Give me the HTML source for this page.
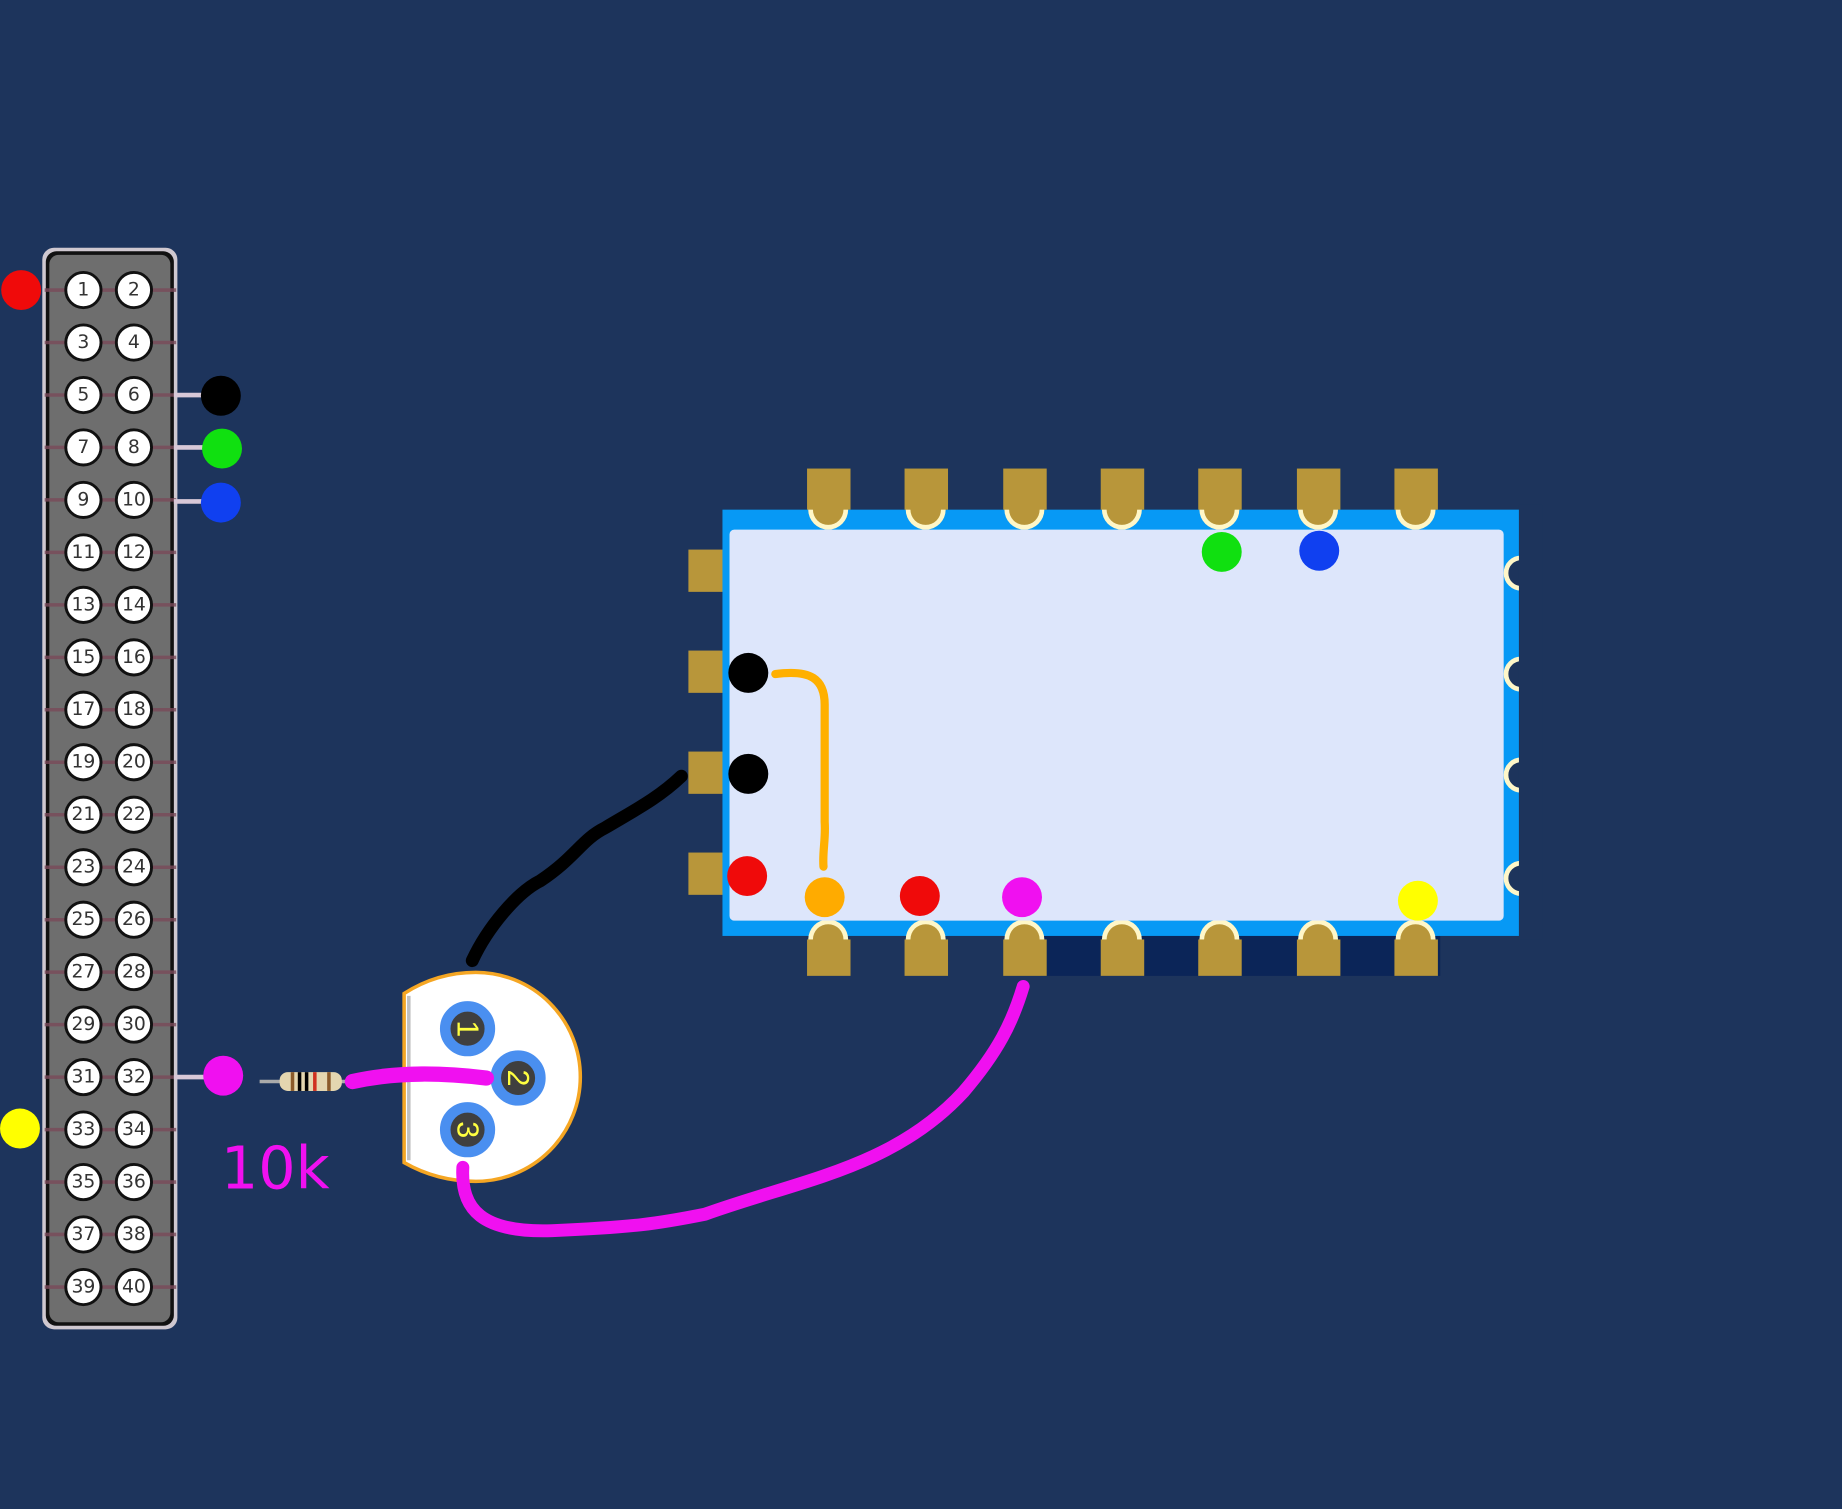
<!DOCTYPE html>
<html><head><meta charset="utf-8"><style>
html,body{margin:0;padding:0;background:#1d345c;}
svg{display:block}
.pin circle{fill:#fff;stroke:#111;stroke-width:2.5}
.pin text{font-family:"DejaVu Sans","Liberation Sans",sans-serif;font-size:16px;fill:#333;text-anchor:middle;dominant-baseline:central}
</style></head><body>
<svg width="1842" height="1509" viewBox="0 0 1568 1285" preserveAspectRatio="none" xmlns="http://www.w3.org/2000/svg">
<rect width="1568" height="1285" fill="#1d345c"/>
<!-- header -->
<rect x="36" y="211" width="115" height="921" rx="10" fill="#cfc8d0"/>
<rect x="39" y="214" width="109" height="915" rx="9" fill="#111"/>
<rect x="42" y="217" width="103" height="909" rx="8" fill="#6e6e6e"/>
<g stroke="#7a4a5a" stroke-width="3" opacity="0.8">
<line x1="38" y1="247" x2="150" y2="247"/><line x1="38" y1="291.7" x2="150" y2="291.7"/><line x1="38" y1="336.4" x2="150" y2="336.4"/><line x1="38" y1="381" x2="150" y2="381"/><line x1="38" y1="425.7" x2="150" y2="425.7"/><line x1="38" y1="470.4" x2="150" y2="470.4"/><line x1="38" y1="515.1" x2="150" y2="515.1"/><line x1="38" y1="559.8" x2="150" y2="559.8"/><line x1="38" y1="604.4" x2="150" y2="604.4"/><line x1="38" y1="649.1" x2="150" y2="649.1"/><line x1="38" y1="693.8" x2="150" y2="693.8"/><line x1="38" y1="738.5" x2="150" y2="738.5"/><line x1="38" y1="783.2" x2="150" y2="783.2"/><line x1="38" y1="827.8" x2="150" y2="827.8"/><line x1="38" y1="872.5" x2="150" y2="872.5"/><line x1="38" y1="917.2" x2="150" y2="917.2"/><line x1="38" y1="961.9" x2="150" y2="961.9"/><line x1="38" y1="1006.6" x2="150" y2="1006.6"/><line x1="38" y1="1051.2" x2="150" y2="1051.2"/><line x1="38" y1="1096" x2="150" y2="1096"/>
</g>
<g class="pin">
<circle cx="71" cy="247" r="15"/><text x="71" y="247">1</text><circle cx="114" cy="247" r="15"/><text x="114" y="247">2</text>
<circle cx="71" cy="291.7" r="15"/><text x="71" y="291.7">3</text><circle cx="114" cy="291.7" r="15"/><text x="114" y="291.7">4</text>
<circle cx="71" cy="336.4" r="15"/><text x="71" y="336.4">5</text><circle cx="114" cy="336.4" r="15"/><text x="114" y="336.4">6</text>
<circle cx="71" cy="381" r="15"/><text x="71" y="381">7</text><circle cx="114" cy="381" r="15"/><text x="114" y="381">8</text>
<circle cx="71" cy="425.7" r="15"/><text x="71" y="425.7">9</text><circle cx="114" cy="425.7" r="15"/><text x="114" y="425.7">10</text>
<circle cx="71" cy="470.4" r="15"/><text x="71" y="470.4">11</text><circle cx="114" cy="470.4" r="15"/><text x="114" y="470.4">12</text>
<circle cx="71" cy="515.1" r="15"/><text x="71" y="515.1">13</text><circle cx="114" cy="515.1" r="15"/><text x="114" y="515.1">14</text>
<circle cx="71" cy="559.8" r="15"/><text x="71" y="559.8">15</text><circle cx="114" cy="559.8" r="15"/><text x="114" y="559.8">16</text>
<circle cx="71" cy="604.4" r="15"/><text x="71" y="604.4">17</text><circle cx="114" cy="604.4" r="15"/><text x="114" y="604.4">18</text>
<circle cx="71" cy="649.1" r="15"/><text x="71" y="649.1">19</text><circle cx="114" cy="649.1" r="15"/><text x="114" y="649.1">20</text>
<circle cx="71" cy="693.8" r="15"/><text x="71" y="693.8">21</text><circle cx="114" cy="693.8" r="15"/><text x="114" y="693.8">22</text>
<circle cx="71" cy="738.5" r="15"/><text x="71" y="738.5">23</text><circle cx="114" cy="738.5" r="15"/><text x="114" y="738.5">24</text>
<circle cx="71" cy="783.2" r="15"/><text x="71" y="783.2">25</text><circle cx="114" cy="783.2" r="15"/><text x="114" y="783.2">26</text>
<circle cx="71" cy="827.8" r="15"/><text x="71" y="827.8">27</text><circle cx="114" cy="827.8" r="15"/><text x="114" y="827.8">28</text>
<circle cx="71" cy="872.5" r="15"/><text x="71" y="872.5">29</text><circle cx="114" cy="872.5" r="15"/><text x="114" y="872.5">30</text>
<circle cx="71" cy="917.2" r="15"/><text x="71" y="917.2">31</text><circle cx="114" cy="917.2" r="15"/><text x="114" y="917.2">32</text>
<circle cx="71" cy="961.9" r="15"/><text x="71" y="961.9">33</text><circle cx="114" cy="961.9" r="15"/><text x="114" y="961.9">34</text>
<circle cx="71" cy="1006.6" r="15"/><text x="71" y="1006.6">35</text><circle cx="114" cy="1006.6" r="15"/><text x="114" y="1006.6">36</text>
<circle cx="71" cy="1051.2" r="15"/><text x="71" y="1051.2">37</text><circle cx="114" cy="1051.2" r="15"/><text x="114" y="1051.2">38</text>
<circle cx="71" cy="1096" r="15"/><text x="71" y="1096">39</text><circle cx="114" cy="1096" r="15"/><text x="114" y="1096">40</text>
</g>
<g stroke="#d8c8d8" stroke-width="4">
<line x1="148" y1="336.4" x2="180" y2="336.4"/><line x1="148" y1="381" x2="180" y2="381"/><line x1="148" y1="427" x2="180" y2="427"/><line x1="148" y1="917.2" x2="180" y2="917.2"/>
</g>
<circle cx="18" cy="247" r="17" fill="#f00a0a"/>
<circle cx="17" cy="961" r="17" fill="#ffff00"/>
<circle cx="188" cy="337" r="17" fill="#000"/>
<circle cx="189" cy="382" r="17" fill="#10e010"/>
<circle cx="188" cy="428" r="17" fill="#1040f0"/>
<circle cx="190" cy="916" r="17" fill="#f010f0"/>
<!-- module -->
<rect x="886" y="795" width="340" height="36" fill="#0b2558"/>
<g fill="#b8963a">
<rect x="586" y="468" width="36" height="36"/><rect x="586" y="554" width="36" height="36"/><rect x="586" y="640" width="36" height="36"/><rect x="586" y="726" width="36" height="36"/>
</g>
<rect x="615" y="434" width="678" height="363" fill="#0799f5"/>
<g fill="#fff7c8">
<circle cx="705" cy="434" r="17"/><circle cx="788" cy="434" r="17"/><circle cx="872" cy="434" r="17"/><circle cx="955" cy="434" r="17"/><circle cx="1038" cy="434" r="17"/><circle cx="1122" cy="434" r="17"/><circle cx="1205" cy="434" r="17"/>
<circle cx="705" cy="800" r="17"/><circle cx="788" cy="800" r="17"/><circle cx="872" cy="800" r="17"/><circle cx="955" cy="800" r="17"/><circle cx="1038" cy="800" r="17"/><circle cx="1122" cy="800" r="17"/><circle cx="1205" cy="800" r="17"/>
</g>
<g fill="#b8963a">
<circle cx="705" cy="434" r="13"/><circle cx="788" cy="434" r="13"/><circle cx="872" cy="434" r="13"/><circle cx="955" cy="434" r="13"/><circle cx="1038" cy="434" r="13"/><circle cx="1122" cy="434" r="13"/><circle cx="1205" cy="434" r="13"/>
<circle cx="705" cy="800" r="13"/><circle cx="788" cy="800" r="13"/><circle cx="872" cy="800" r="13"/><circle cx="955" cy="800" r="13"/><circle cx="1038" cy="800" r="13"/><circle cx="1122" cy="800" r="13"/><circle cx="1205" cy="800" r="13"/>
<rect x="687" y="399" width="37" height="35"/><rect x="770" y="399" width="37" height="35"/><rect x="854" y="399" width="37" height="35"/><rect x="937" y="399" width="37" height="35"/><rect x="1020" y="399" width="37" height="35"/><rect x="1104" y="399" width="37" height="35"/><rect x="1187" y="399" width="37" height="35"/>
<rect x="687" y="800" width="37" height="31"/><rect x="770" y="800" width="37" height="31"/><rect x="854" y="800" width="37" height="31"/><rect x="937" y="800" width="37" height="31"/><rect x="1020" y="800" width="37" height="31"/><rect x="1104" y="800" width="37" height="31"/><rect x="1187" y="800" width="37" height="31"/>
</g>
<g fill="#1d345c" stroke="#fff7c8" stroke-width="4">
<circle cx="1295" cy="488" r="13"/><circle cx="1295" cy="574" r="13"/><circle cx="1295" cy="660" r="13"/><circle cx="1295" cy="748" r="13"/>
</g>
<rect x="1293" y="430" width="20" height="370" fill="#1d345c"/>
<rect x="621" y="451" width="659" height="333" rx="4" fill="#dde6fb"/>
<!-- sensor -->
<path d="M344,846 Q372,828 405,828 A89,89 0 0 1 405,1006 Q372,1006 344,990 Z" fill="#fff" stroke="#f5a623" stroke-width="3"/>
<path d="M348,848 L348,988" stroke="#c0c0c0" stroke-width="3"/>
<g fill="#3f3f3f" stroke="#4a8ff0" stroke-width="9">
<circle cx="398" cy="876" r="19"/><circle cx="441" cy="918" r="19"/><circle cx="398" cy="962" r="19"/>
</g>
<g font-family="Liberation Sans,sans-serif" font-size="26" fill="#ffff40" text-anchor="middle">
<text transform="translate(398,876) rotate(90)" dominant-baseline="central">1</text>
<text transform="translate(441,918) rotate(90)" dominant-baseline="central">2</text>
<text transform="translate(398,962) rotate(90)" dominant-baseline="central">3</text>
</g>
<!-- resistor -->
<line x1="221" y1="921" x2="306" y2="921" stroke="#aaa" stroke-width="3"/>
<rect x="238" y="913" width="53" height="16" rx="7" fill="#e4d6b0"/>
<g stroke-width="3"><line x1="249" y1="913" x2="249" y2="929" stroke="#8a5a2a"/><line x1="255" y1="913" x2="255" y2="929" stroke="#000"/><line x1="261" y1="913" x2="261" y2="929" stroke="#000"/><line x1="268" y1="913" x2="268" y2="929" stroke="#d03020"/><line x1="280" y1="913" x2="280" y2="929" stroke="#8a5a2a"/></g>
<text x="188" y="1012" font-family="DejaVu Sans,Liberation Sans,sans-serif" font-size="50" fill="#f010f0">10k</text>
<!-- wires -->
<g fill="none" stroke-linecap="round" stroke-linejoin="round">
<path d="M300,921 C340,912 380,914 414,918" stroke="#f010f0" stroke-width="13"/>
<path d="M394,994 C392,1030 410,1050 470,1048 C540,1045 560,1042 600,1034 C680,1005 760,995 820,930 C850,895 862,870 871,840" stroke="#f010f0" stroke-width="11"/>
<path d="M402,818 C415,790 440,760 460,750 C490,730 495,715 515,705 C540,690 560,680 580,661" stroke="#000" stroke-width="11"/>
<path d="M660,574 C690,570 702,578 702,600 L702,700 C703,715 700,725 701,738" stroke="#ffb000" stroke-width="7"/>
</g>
<circle cx="637" cy="573" r="17" fill="#000"/>
<circle cx="637" cy="659" r="17" fill="#000"/>
<circle cx="636" cy="746" r="17" fill="#f00a0a"/>
<circle cx="702" cy="764" r="17" fill="#ffab00"/>
<circle cx="783" cy="763" r="17" fill="#f00a0a"/>
<circle cx="870" cy="764" r="17" fill="#f010f0"/>
<circle cx="1040" cy="470" r="17" fill="#10e010"/>
<circle cx="1123" cy="469" r="17" fill="#1040f0"/>
<circle cx="1207" cy="767" r="17" fill="#ffff00"/>
</svg>
</body></html>
